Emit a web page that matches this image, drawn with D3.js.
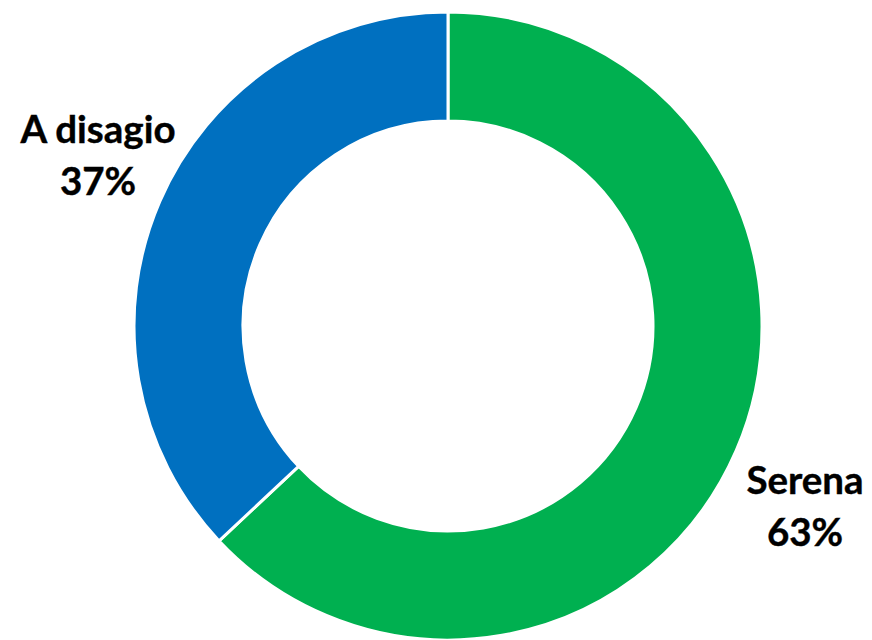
<!DOCTYPE html>
<html><head><meta charset="utf-8">
<script src="https://cdn.jsdelivr.net/npm/d3@7"></script>
<style>html,body{margin:0;padding:0;background:#fff;}</style>
</head><body>
<svg id="chart" width="872" height="640"></svg>
<script>
const categories = ["Serena", "A disagio"];
const values = [63, 37];
const labels = ["63%", "37%"];
const colors = ["#00B050", "#0070C0"];

const svg = d3.select("#chart");
const cx = 448, cy = 326, outerR = 314, innerR = 205;
const g = svg.append("g").attr("transform", `translate(${cx},${cy})`);

const pie = d3.pie().sort(null).value(d => d.v);
const arcs = pie(categories.map((c, i) => ({c, v: values[i], l: labels[i], col: colors[i]})));
const arc = d3.arc().innerRadius(innerR).outerRadius(outerR);

g.selectAll("path").data(arcs).join("path")
  .attr("d", arc)
  .attr("fill", d => d.data.col)
  .attr("stroke", "#fff")
  .attr("stroke-width", 3);

const labelPos = {"Serena": [805, 494], "A disagio": [98, 143]};
const txt = svg.append("g").attr("font-family", "Lato, 'Open Sans', sans-serif")
  .attr("font-weight", "bold").attr("font-size", 38.5).attr("fill", "#000")
  .attr("stroke", "#000").attr("stroke-width", 0.4)
  .attr("text-anchor", "middle");
arcs.forEach(d => {
  const [x, y] = labelPos[d.data.c];
  txt.append("text").attr("x", x).attr("y", y).text(d.data.c);
  txt.append("text").attr("x", x).attr("y", y + 52).text(d.data.l);
});
</script>
</body></html>
